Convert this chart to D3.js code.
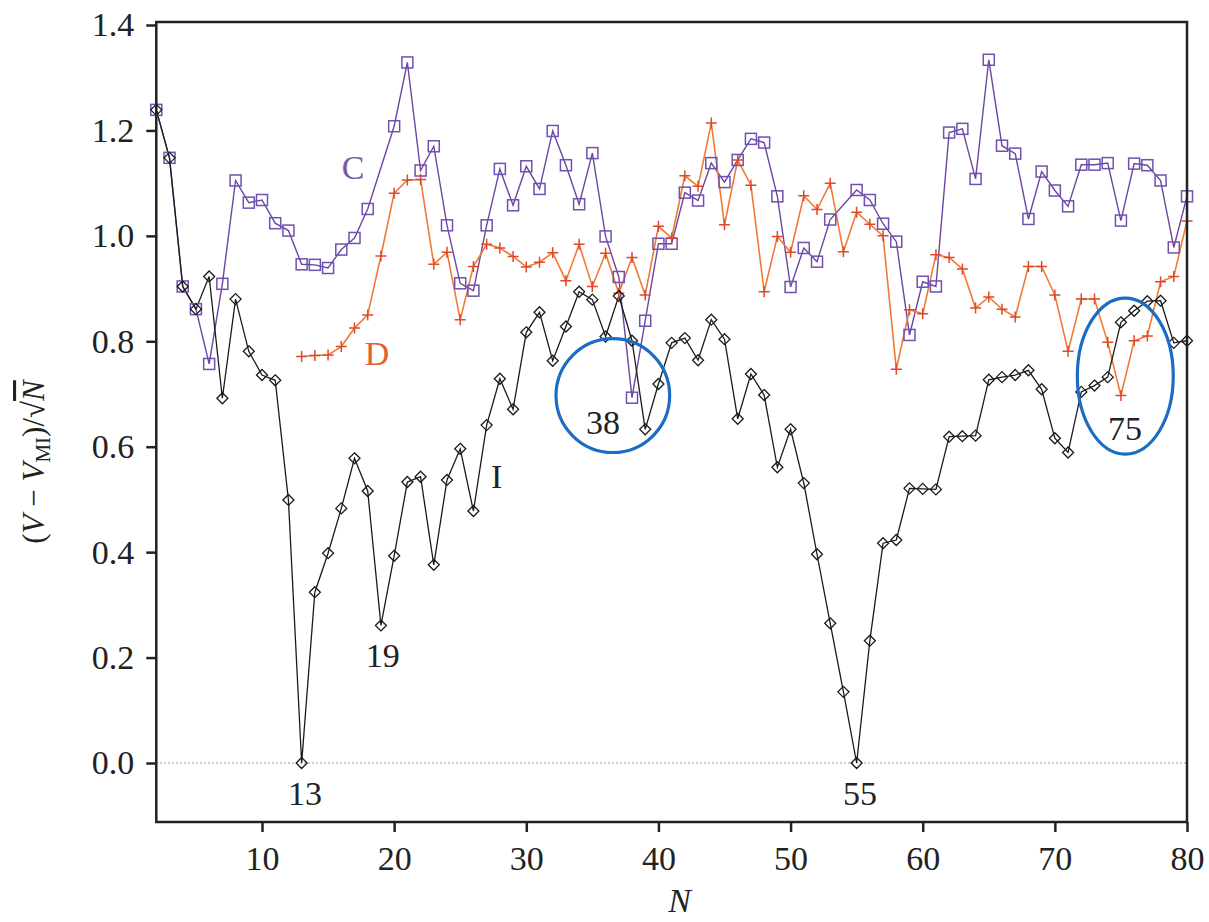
<!DOCTYPE html>
<html>
<head>
<meta charset="utf-8">
<script src="https://cdn.jsdelivr.net/npm/d3@7"></script>
<style>
  body { margin: 0; background: #fff; }
  svg text { font-family: "Liberation Serif", "DejaVu Serif", serif; }
</style>
</head>
<body>
<div class="graph-container"></div>
<script>
// N runs from 2 to 80
var nValues = d3.range(2, 81);

// series C (squares), null = no point
var cValues = [1.239, 1.148, 0.904, 0.861, 0.757, 0.909, 1.105, 1.063, 1.068, 1.024,
  1.010, 0.946, 0.945, 0.939, 0.974, 0.996, 1.051, null, 1.208, 1.329,
  1.124, 1.170, 1.020, 0.910, 0.896, 1.020, 1.127, 1.058, 1.132, 1.089,
  1.199, 1.134, 1.060, 1.157, 0.999, 0.922, 0.693, 0.839, 0.985, 0.985,
  1.082, 1.067, 1.138, 1.102, 1.144, 1.184, 1.177, 1.075, 0.903, 0.977,
  0.951, 1.031, null, 1.087, 1.068, 1.023, 0.989, 0.812, 0.913, 0.904,
  1.196, 1.203, 1.108, 1.334, 1.171, 1.156, 1.032, 1.122, 1.086, 1.056,
  1.135, 1.135, 1.138, 1.029, 1.137, 1.134, 1.105, 0.978, 1.075];

// series D (plus), starts at N = 13
var dValues = [null, null, null, null, null, null, null, null, null, null, null,
  0.771, 0.773, 0.774, 0.790, 0.825, 0.850, 0.962, 1.081, 1.106, 1.107,
  0.946, 0.969, 0.841, 0.942, 0.984, 0.977, 0.961, 0.941, 0.950, 0.968,
  0.915, 0.984, 0.904, 0.967, 0.891, 0.959, 0.888, 1.018, 0.996, 1.114,
  1.094, 1.214, 1.021, 1.144, 1.096, 0.894, 0.999, 0.969, 1.076, 1.050,
  1.100, 0.970, 1.045, 1.022, 1.000, 0.747, 0.860, 0.852, 0.964, 0.959,
  0.937, 0.863, 0.884, 0.861, 0.846, 0.942, 0.942, 0.888, 0.781, 0.880,
  0.880, 0.798, 0.697, 0.801, 0.810, 0.913, 0.923, 1.028];

// series I (diamonds)
var iValues = [1.239, 1.148, 0.904, 0.861, 0.923, 0.692, 0.880, 0.781, 0.736, 0.726,
  0.499, 0.000, 0.324, 0.398, 0.483, 0.578, 0.516, 0.261, 0.393, 0.533,
  0.543, 0.376, 0.537, 0.596, 0.478, 0.641, 0.729, 0.671, 0.817, 0.855,
  0.763, 0.828, 0.894, 0.879, 0.809, 0.886, 0.801, 0.633, 0.719, 0.797,
  0.806, 0.764, 0.841, 0.804, 0.653, 0.738, 0.698, 0.561, 0.633, 0.531,
  0.396, 0.265, 0.135, 0.000, 0.232, 0.417, 0.423, 0.521, 0.520, 0.519,
  0.619, 0.620, 0.621, 0.727, 0.732, 0.736, 0.745, 0.709, 0.616, 0.589,
  0.704, 0.716, 0.732, 0.836, 0.858, 0.876, 0.877, 0.797, 0.801];

var xTicks = [10, 20, 30, 40, 50, 60, 70, 80];
var yTicks = [0, 0.2, 0.4, 0.6, 0.8, 1.0, 1.2, 1.4];

// curve names and the marked N values
var seriesLabels = [{text: "C", n: 16.9, v: 1.108}, {text: "D", n: 18.7, v: 0.755}, {text: "I", n: 27.75, v: 0.522}];
var minLabels = [{text: "13", n: 13.25, v: -0.08}, {text: "19", n: 19.13, v: 0.182}, {text: "55", n: 55.25, v: -0.08}];
var circledLabels = [{text: "38", n: 35.8, v: 0.624}, {text: "75", n: 75.3, v: 0.613}];
// hand-drawn rings: centre and radii in data units
var rings = [{n: 36.55, v: 0.697, rn: 4.3, rv: 0.108}, {n: 75.33, v: 0.734, rn: 3.63, rv: 0.148}];

var W = 1209, H = 922;
var plotTop = 22, plotBottom = 822;

var svg = d3.select(".graph-container").append("svg")
    .attr("width", W)
    .attr("height", H);

var x = d3.scaleLinear().domain([10, 80]).range([262, 1187]);
var y = d3.scaleLinear().domain([0, 1.4]).range([763, 25]);
var plotLeft = x(2), plotRight = x(80);

// dotted zero line
svg.append("line")
    .attr("x1", plotLeft).attr("x2", plotRight)
    .attr("y1", y(0)).attr("y2", y(0))
    .attr("stroke", "#777")
    .attr("stroke-width", 1)
    .attr("stroke-dasharray", "1.5,2.5");

function pts(vals) {
    return nValues.map((n, i) => ({n: n, v: vals[i]})).filter(d => d.v != null);
}

var line = d3.line().x(d => x(d.n)).y(d => y(d.v));

var cData = pts(cValues), dData = pts(dValues), iData = pts(iValues);

svg.append("path").datum(cData).attr("d", line)
    .attr("fill", "none").attr("stroke", "#6d45a3").attr("stroke-width", 1.4);
svg.append("path").datum(dData).attr("d", line)
    .attr("fill", "none").attr("stroke", "#f07a35").attr("stroke-width", 1.6);
svg.append("path").datum(iData).attr("d", line)
    .attr("fill", "none").attr("stroke", "#1a1a1a").attr("stroke-width", 1.3);

// markers
svg.append("g").selectAll("rect").data(cData).enter().append("rect")
    .attr("x", d => x(d.n) - 5.5).attr("y", d => y(d.v) - 5.5)
    .attr("width", 11).attr("height", 11)
    .attr("fill", "none").attr("stroke", "#7050b0").attr("stroke-width", 1.5);

svg.append("g").selectAll("path").data(dData).enter().append("path")
    .attr("d", d => "M" + (x(d.n) - 5.5) + "," + y(d.v) + "h11M" + x(d.n) + "," + (y(d.v) - 5.5) + "v11")
    .attr("stroke", "#e0482a").attr("stroke-width", 1.5);

svg.append("g").selectAll("path").data(iData).enter().append("path")
    .attr("d", d => "M" + x(d.n) + "," + (y(d.v) - 5.5) + "l5.5,5.5l-5.5,5.5l-5.5,-5.5z")
    .attr("fill", "none").attr("stroke", "#1a1a1a").attr("stroke-width", 1.3);

// frame
svg.append("rect")
    .attr("x", plotLeft).attr("y", plotTop)
    .attr("width", plotRight - plotLeft).attr("height", plotBottom - plotTop)
    .attr("fill", "none").attr("stroke", "#222").attr("stroke-width", 2.5);

var xAxis = d3.axisBottom(x).tickValues(xTicks).tickSize(10).tickPadding(14).tickFormat(d => d);
svg.append("g")
    .attr("transform", "translate(0," + plotBottom + ")")
    .call(xAxis)
    .call(g => g.select(".domain").remove())
    .call(g => g.selectAll("line").attr("stroke", "#222").attr("stroke-width", 2.5))
    .call(g => g.selectAll("text").attr("font-size", 34).attr("fill", "#222")
        .style("font-family", "Liberation Serif"));

var yAxis = d3.axisLeft(y).tickValues(yTicks).tickSize(10).tickPadding(12).tickFormat(d3.format(".1f"));
svg.append("g")
    .attr("transform", "translate(" + plotLeft + ",0)")
    .call(yAxis)
    .call(g => g.select(".domain").remove())
    .call(g => g.selectAll("line").attr("stroke", "#222").attr("stroke-width", 2.5))
    .call(g => g.selectAll("text").attr("font-size", 34).attr("fill", "#222")
        .style("font-family", "Liberation Serif"));

// axis titles
svg.append("text")
    .attr("x", (plotLeft + plotRight) / 2 + 8).attr("y", 912)
    .attr("text-anchor", "middle")
    .attr("font-size", 34).attr("font-style", "italic").attr("fill", "#222")
    .text("N");

var yt = svg.append("text")
    .attr("transform", "translate(44," + 462 + ") rotate(-90)")
    .attr("text-anchor", "middle")
    .attr("font-size", 31).attr("fill", "#222");
yt.append("tspan").text("(");
yt.append("tspan").attr("font-style", "italic").text("V");
yt.append("tspan").text(" − ");
yt.append("tspan").attr("font-style", "italic").text("V");
yt.append("tspan").attr("font-size", 21).attr("dy", 6).text("MI");
yt.append("tspan").attr("dy", -6).text(")/√");
yt.append("tspan").attr("font-style", "italic").style("text-decoration", "overline").text("N");

// labels
svg.append("g").selectAll("text").data(seriesLabels).enter().append("text")
    .attr("x", d => x(d.n)).attr("y", d => y(d.v))
    .attr("text-anchor", "middle")
    .attr("font-size", 34)
    .attr("fill", (d, i) => ["#7a5aa8", "#e0602e", "#222"][i])
    .text(d => d.text);

svg.append("g").selectAll("text").data(minLabels.concat(circledLabels)).enter().append("text")
    .attr("x", d => x(d.n)).attr("y", d => y(d.v))
    .attr("text-anchor", "middle")
    .attr("font-size", 34).attr("fill", "#222")
    .text(d => d.text);

svg.append("g").selectAll("ellipse").data(rings).enter().append("ellipse")
    .attr("cx", d => x(d.n)).attr("cy", d => y(d.v))
    .attr("rx", d => x(d.n + d.rn) - x(d.n))
    .attr("ry", d => y(d.v) - y(d.v + d.rv))
    .attr("fill", "none").attr("stroke", "#1c6cc4").attr("stroke-width", 3.2);
</script>
</body>
</html>
